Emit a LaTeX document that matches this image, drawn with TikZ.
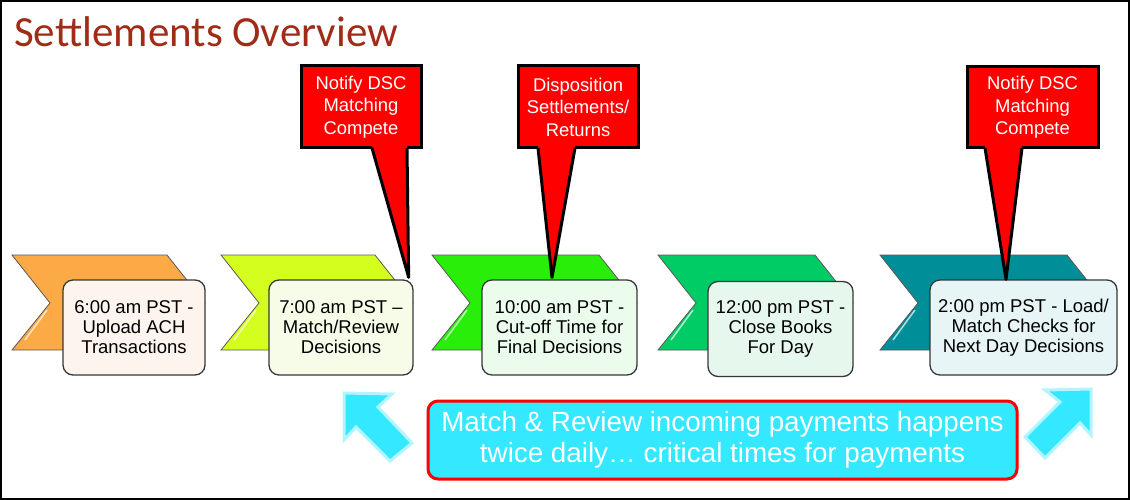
\documentclass[tikz,border=0pt]{standalone}
\usepackage{fontspec}
\setmainfont{Liberation Sans}
\newfontfamily\titlefont{Carlito}
\definecolor{titlered}{RGB}{160,43,22}
\definecolor{boxline}{RGB}{55,55,55}
\definecolor{chevA}{RGB}{252,170,70}
\definecolor{chevB}{RGB}{212,255,30}
\definecolor{chevC}{RGB}{40,238,10}
\definecolor{chevD}{RGB}{0,204,102}
\definecolor{chevE}{RGB}{0,142,152}
\definecolor{boxA}{RGB}{253,245,237}
\definecolor{boxB}{RGB}{247,252,232}
\definecolor{boxC}{RGB}{236,252,236}
\definecolor{boxD}{RGB}{230,248,238}
\definecolor{boxE}{RGB}{232,245,246}
\definecolor{hintcyan}{RGB}{51,232,255}
\definecolor{hintglow}{RGB}{178,244,255}

\begin{document}
\begin{tikzpicture}[x=1pt, y=-1pt,
    timebox/.style = {draw=boxline, line width=1.3pt, rounded corners=10pt, align=center,
                      font=\fontsize{18.5}{20}\selectfont, inner sep=2pt},
    note/.style = {fill=red, draw=black, line width=3pt, outer sep=0pt, text=white, align=center,
                   font=\fontsize{18.4}{22.5}\selectfont},
    pointer/.style = {draw=black, line width=3pt, line join=round},
    band/.style = {draw=black!65, line width=0.8pt},
    shine/.style = {draw=white, line width=1.5pt, opacity=0.7},
    hint/.style = {fill=hintcyan, draw=hintglow, line width=3pt, line join=miter}]
    \useasboundingbox (0,0) rectangle (1130,500);
    \draw[line width=2pt] (1,1) rectangle (1129,499);

    \node[anchor=base west, inner sep=0pt, text=titlered,
          font=\titlefont\fontsize{43}{48}\selectfont] (title) at (14,47) {Settlements Overview};

    % timeline chevrons
    \filldraw[band, fill=chevA] (12,255) -- (167,255) -- (205,303) -- (167,350) -- (12,350) -- (50,303) -- cycle;
    \filldraw[band, fill=chevB] (221,255) -- (375,255) -- (413,303) -- (375,350) -- (221,350) -- (259,303) -- cycle;
    \filldraw[band, fill=chevC] (432,255) -- (599,255) -- (637,303) -- (599,350) -- (432,350) -- (470,303) -- cycle;
    \filldraw[band, fill=chevD] (658,255) -- (815,255) -- (853,303) -- (815,350) -- (658,350) -- (696,303) -- cycle;
    \filldraw[band, fill=chevE] (880,255) -- (1067,255) -- (1105,303) -- (1067,350) -- (880,350) -- (918,303) -- cycle;
    \draw[shine] (47,310) -- (25,340);
    \draw[shine] (256,310) -- (234,340);
    \draw[shine] (467,310) -- (445,340);
    \draw[shine] (693,310) -- (671,340);
    \draw[shine] (915,310) -- (893,340);

    % time boxes
    \node[timebox, fill=boxA, minimum width=142pt, minimum height=95pt] (t1) at (134,327.5)
        {6:00 am PST -\\Upload ACH\\Transactions};
    \node[timebox, fill=boxB, minimum width=144pt, minimum height=95pt] (t2) at (341,327.5)
        {7:00 am PST --\\Match/Review\\Decisions};
    \node[timebox, fill=boxC, minimum width=155pt, minimum height=95pt] (t3) at (559.5,327.5)
        {10:00 am PST -\\Cut-off Time for\\Final Decisions};
    \node[timebox, fill=boxD, minimum width=145pt, minimum height=95pt] (t4) at (780.5,329)
        {12:00 pm PST -\\Close Books\\For Day};
    \node[timebox, fill=boxE, minimum width=187pt, minimum height=95pt] (t5) at (1023.5,327.5)
        {2:00 pm PST - Load/\\Match Checks for\\Next Day Decisions};

    % callouts
    \node[note, minimum width=120pt, minimum height=82pt] (c1) at (361,107)
        {Notify DSC\\Matching\\Compete};
    \node[note, minimum width=120pt, minimum height=82pt] (c2) at (578,107)
        {Disposition\\Settlements/\\Returns};
    \node[note, minimum width=131pt, minimum height=81pt] (c3) at (1032.5,107.5)
        {Notify DSC\\Matching\\Compete};

    \fill[red] ([xshift=71pt,yshift=2.5pt]c1.south west) -- ([xshift=-5pt,yshift=2pt]t2.north east)
        -- ([xshift=106pt,yshift=2.5pt]c1.south west) -- cycle;
    \draw[pointer] ([xshift=71pt]c1.south west) -- ([xshift=-5pt,yshift=2pt]t2.north east)
        -- ([xshift=106pt]c1.south west);
    \fill[red] ([xshift=20pt,yshift=2.5pt]c2.south west) -- ([xshift=-7.5pt,yshift=2pt]t3.north)
        -- ([xshift=57pt,yshift=2.5pt]c2.south west) -- cycle;
    \draw[pointer] ([xshift=20pt]c2.south west) -- ([xshift=-7.5pt,yshift=2pt]t3.north)
        -- ([xshift=57pt]c2.south west);
    \fill[red] ([xshift=18pt,yshift=2.5pt]c3.south west) -- ([xshift=-17.5pt]t5.north)
        -- ([xshift=55pt,yshift=2.5pt]c3.south west) -- cycle;
    \draw[pointer] ([xshift=18pt]c3.south west) -- ([xshift=-17.5pt]t5.north)
        -- ([xshift=55pt]c3.south west);

    % bottom message
    \filldraw[hint] (344,393) -- (392,394) -- (378,407) -- (412,443) -- (390,461) -- (356,427) -- (344,440) -- cycle;
    \filldraw[hint] (1091,389) -- (1045,390) -- (1060,402) -- (1025,437) -- (1045,458) -- (1080,423) -- (1091,435) -- cycle;
    \node[fill=hintcyan, draw=red, line width=3pt, rounded corners=10pt, text=white, align=center,
          font=\fontsize{27.8}{31}\selectfont, minimum width=589pt, minimum height=78pt] (msg) at (722.5,440)
        {Match \& Review incoming payments happens\\twice daily\dots{} critical times for payments};

\end{tikzpicture}
\end{document}
